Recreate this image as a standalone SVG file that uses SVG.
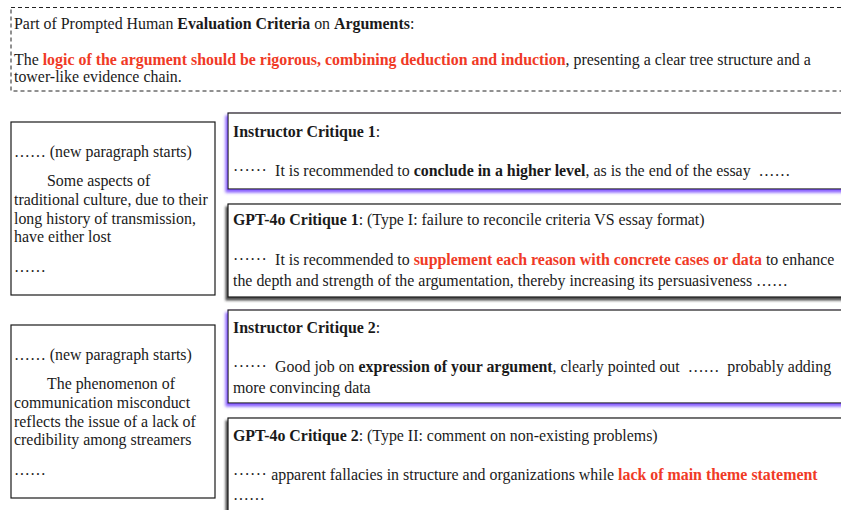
<svg xmlns="http://www.w3.org/2000/svg" width="841" height="510" viewBox="0 0 841 510">
<style>
text{font-family:"Liberation Serif","Times New Roman",serif;font-size:15.9px;fill:#1a1a1a;white-space:pre}
.b{font-weight:bold}
.r{font-weight:bold;fill:#f03a26}
.d{letter-spacing:0.4px}
.box{fill:#fff;stroke:#1a1a1a;stroke-width:1.2}
.dash{fill:none;stroke:#222;stroke-width:1;stroke-dasharray:4 3}
</style>
<defs>
<filter id="sp" x="-5%" y="-20%" width="110%" height="140%">
<feDropShadow dx="-2" dy="3" stdDeviation="1.5" flood-color="#7b4dff" flood-opacity="0.9"/>
</filter>
<filter id="sg" x="-5%" y="-20%" width="110%" height="140%">
<feDropShadow dx="-2" dy="3" stdDeviation="1" flood-color="#333" flood-opacity="0.85"/>
</filter>
</defs>
<g id="criteria">
<rect class="dash" x="11" y="7.5" width="840" height="83.5"/>
<text x="14" y="29">Part of Prompted Human <tspan class="b">Evaluation Criteria</tspan> on <tspan class="b">Arguments</tspan>:</text>
<text x="14" y="65">The <tspan class="r">logic of the argument should be rigorous, combining deduction and induction</tspan>, presenting a clear tree structure and a</text>
<text x="14" y="82">tower-like evidence chain.</text>
</g>
<g id="essay1">
<rect class="box" x="11" y="122" width="204" height="173"/>
<text x="14" y="157">…… (new paragraph starts)</text>
<text x="47" y="186">Some aspects of</text>
<text x="14" y="205">traditional culture, due to their</text>
<text x="14" y="224">long history of transmission,</text>
<text x="14" y="242">have either lost</text>
<text x="14" y="272">……</text>
</g>
<g id="instructor1">
<rect class="box" x="228" y="113" width="630" height="76" filter="url(#sp)"/>
<text x="233" y="137"><tspan class="b">Instructor Critique 1</tspan>:</text>
<text x="233" y="176"><tspan class="d">······</tspan>  It is recommended to <tspan class="b">conclude in a higher level</tspan>, as is the end of the essay  ……</text>
</g>
<g id="gpt1">
<rect class="box" x="228" y="204" width="630" height="93" filter="url(#sg)"/>
<text x="233" y="225"><tspan class="b">GPT-4o Critique 1</tspan>: (Type I: failure to reconcile criteria VS essay format)</text>
<text x="233" y="265"><tspan class="d">······</tspan>  It is recommended to <tspan class="r">supplement each reason with concrete cases or data</tspan> to enhance</text>
<text x="233" y="286">the depth and strength of the argumentation, thereby increasing its persuasiveness ……</text>
</g>
<g id="essay2">
<rect class="box" x="11" y="325" width="204" height="173"/>
<text x="14" y="360">…… (new paragraph starts)</text>
<text x="47" y="389">The phenomenon of</text>
<text x="14" y="408">communication misconduct</text>
<text x="14" y="427">reflects the issue of a lack of</text>
<text x="14" y="445">credibility among streamers</text>
<text x="14" y="475">……</text>
</g>
<g id="instructor2">
<rect class="box" x="228" y="310" width="630" height="93" filter="url(#sp)"/>
<text x="233" y="333"><tspan class="b">Instructor Critique 2</tspan>:</text>
<text x="233" y="372"><tspan class="d">······</tspan>  Good job on <tspan class="b">expression of your argument</tspan>, clearly pointed out  ……  probably adding</text>
<text x="233" y="393">more convincing data</text>
</g>
<g id="gpt2">
<rect class="box" x="228" y="418" width="630" height="110" filter="url(#sg)"/>
<text x="233" y="441"><tspan class="b">GPT-4o Critique 2</tspan>: (Type II: comment on non-existing problems)</text>
<text x="233" y="480"><tspan class="d">······</tspan> apparent fallacies in structure and organizations while <tspan class="r">lack of main theme statement</tspan></text>
<text x="233" y="500">……</text>
</g>
<g id="connectors"/>
</svg>
